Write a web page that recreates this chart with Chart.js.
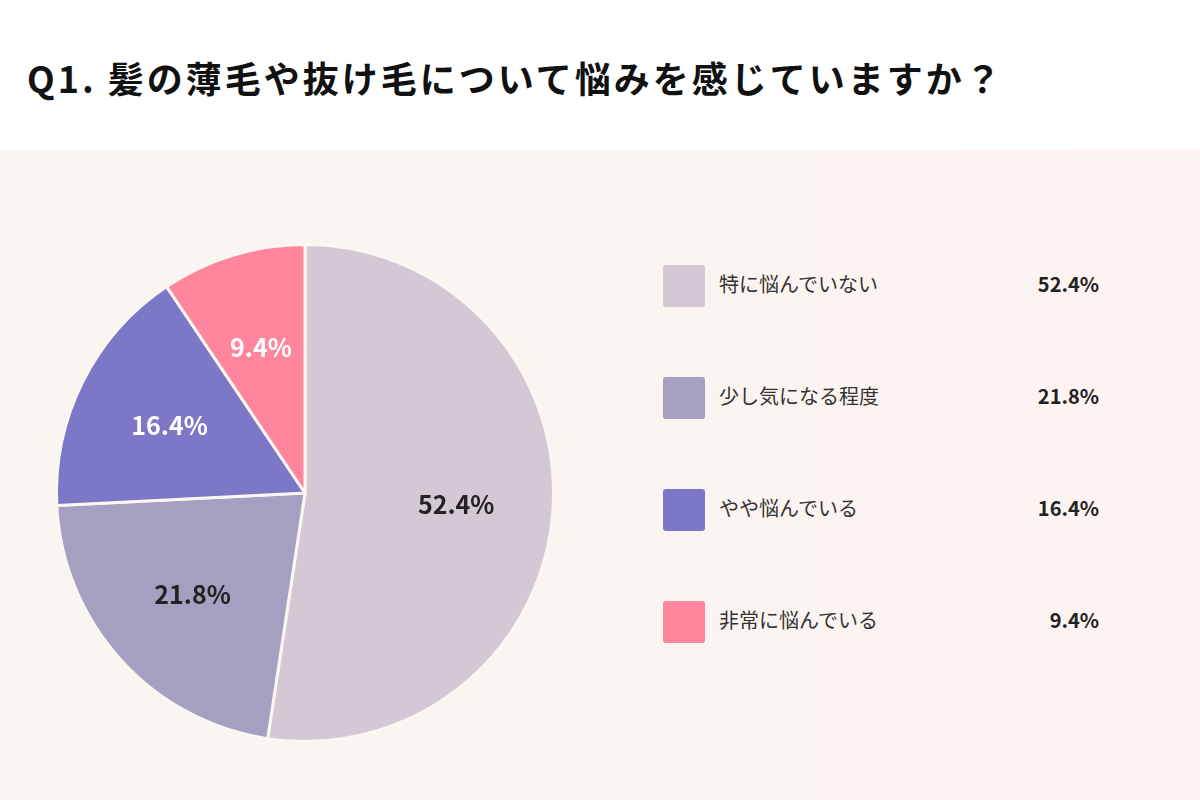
<!DOCTYPE html>
<html lang="ja">
<head>
<meta charset="utf-8">
<script src="https://cdn.jsdelivr.net/npm/chart.js@4/dist/chart.umd.min.js"></script>
<style>
  html, body { margin: 0; padding: 0; }
  body {
    width: 1200px; height: 800px; position: relative; overflow: hidden;
    background: #fff;
    font-family: "Noto Sans CJK JP", "Noto Sans", sans-serif;
  }
  h1 {
    position: absolute; left: 27px; top: 50px; margin: 0;
    font-size: 36px; font-weight: 700; letter-spacing: 3px; color: #111;
    line-height: 54px;
  }
  #panel {
    position: absolute; left: 0; top: 150px; width: 1200px; height: 650px;
    background: linear-gradient(90deg, #f9f5f0 0%, #faf5f1 50%, #fdf3f2 100%);
  }
  #pieWrap { position: absolute; left: 5px; top: 193px; width: 600px; height: 600px; }
  #legend { position: absolute; left: 663px; top: 0; width: 440px; }
  .row { position: absolute; left: 0; width: 436px; height: 42px; }
  .box { position: absolute; left: 0; top: 0; width: 42px; height: 42px; border-radius: 3px; }
  .lbl { position: absolute; left: 56px; top: 0; line-height: 38px; font-size: 20px; color: #333; }
  .pct { position: absolute; right: 0; top: 0; line-height: 38px; font-size: 20px; font-weight: 700; color: #222; }
</style>
</head>
<body>
<h1>Q1. 髪の薄毛や抜け毛について悩みを感じていますか？</h1>
<div id="panel"></div>
<div id="pieWrap"><canvas id="pie" width="600" height="600"></canvas></div>
<div id="legend"></div>
<script>
// answers and shares (%)
const categories = ['特に悩んでいない', '少し気になる程度', 'やや悩んでいる', '非常に悩んでいる'];
const shares = [52.4, 21.8, 16.4, 9.4];
const sliceColors = ['#d4c8d4', '#a5a0c2', '#7c77c6', '#ff869d'];
const labelColors = ['#222', '#222', '#fff', '#fff'];

// legend on the right, built from the same arrays
const legend = document.getElementById('legend');
categories.forEach((c, i) => {
  const row = document.createElement('div');
  row.className = 'row';
  row.style.top = (265 + i * 112) + 'px';
  row.innerHTML = '<div class="box" style="background:' + sliceColors[i] + '"></div>' +
    '<div class="lbl">' + c + '</div>' +
    '<div class="pct">' + shares[i].toFixed(1) + '%</div>';
  legend.appendChild(row);
});

// percentage text inside each slice
const sliceLabels = {
  id: 'sliceLabels',
  afterDatasetsDraw(chart) {
    const ctx = chart.ctx;
    const meta = chart.getDatasetMeta(0);
    ctx.save();
    ctx.font = 'bold 25px "Noto Sans CJK JP", "Noto Sans", sans-serif';
    ctx.textAlign = 'center';
    ctx.textBaseline = 'middle';
    meta.data.forEach((arc, i) => {
      const p = arc.getProps(['x', 'y', 'startAngle', 'endAngle', 'outerRadius'], true);
      const mid = (p.startAngle + p.endAngle) / 2;
      const r = p.outerRadius * 0.61;
      ctx.fillStyle = labelColors[i];
      ctx.fillText(shares[i].toFixed(1) + '%', p.x + Math.cos(mid) * r, p.y + Math.sin(mid) * r);
    });
    ctx.restore();
  }
};

new Chart(document.getElementById('pie'), {
  type: 'pie',
  data: {
    labels: categories,
    datasets: [{
      data: shares,
      backgroundColor: sliceColors,
      borderColor: '#faf6f2',
      borderWidth: 3,
      hoverOffset: 0
    }]
  },
  options: {
    responsive: false,
    animation: false,
    layout: { padding: 50 },
    plugins: {
      legend: { display: false },
      tooltip: { enabled: false }
    }
  },
  plugins: [sliceLabels]
});
</script>
</body>
</html>
